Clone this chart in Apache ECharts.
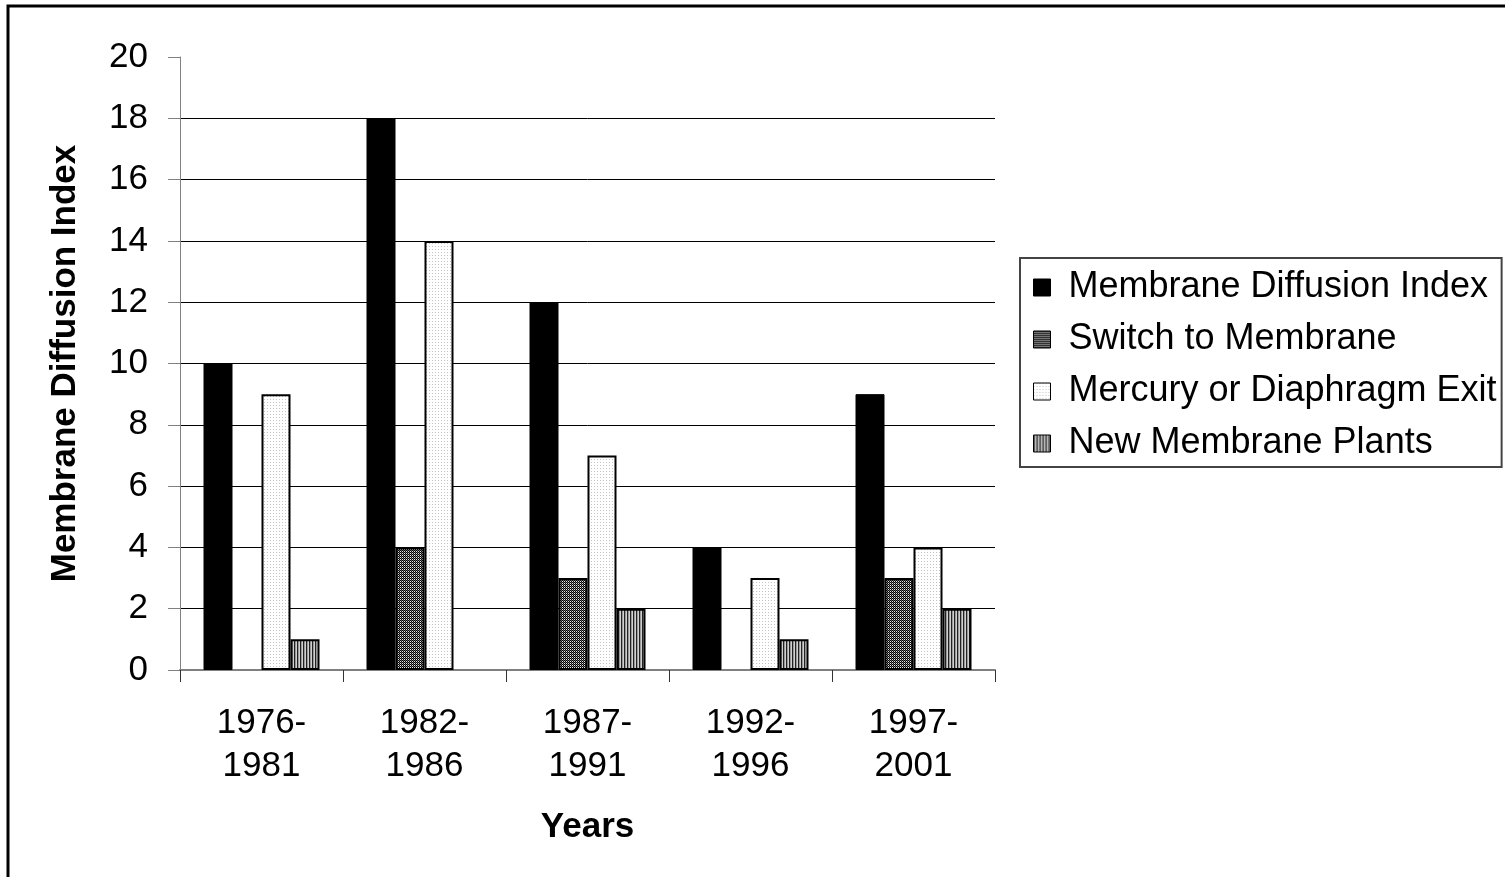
<!DOCTYPE html>
<html>
<head>
<meta charset="utf-8">
<script src="https://cdn.jsdelivr.net/npm/echarts@6/dist/echarts.min.js"></script>
<style>
  html, body { margin: 0; padding: 0; background: #fff; }
  #chart { width: 1505px; height: 877px; }
</style>
</head>
<body>
<div id="chart"></div>
<script>
const years = ['1976-\n1981', '1982-\n1986', '1987-\n1991', '1992-\n1996', '1997-\n2001'];
const diffusionIndex = [10, 18, 12, 4, 9];
const switchToMembrane = [null, 4, 3, null, 3];
const mercuryExit = [9, 14, 7, 3, 4];
const newPlants = [1, null, 2, 1, 2];

const FONT = '"Liberation Sans", Arial, sans-serif';

// small tiles used as fill patterns, like the old Excel hatch fills
function makeTile(w, h, draw) {
  const c = document.createElement('canvas');
  c.width = w;
  c.height = h;
  const ctx = c.getContext('2d');
  ctx.fillStyle = '#fff';
  ctx.fillRect(0, 0, w, h);
  draw(ctx);
  return c;
}

const checkerTile = makeTile(2, 2, ctx => {
  ctx.fillStyle = '#000';
  ctx.fillRect(0, 0, 1, 1);
  ctx.fillRect(1, 1, 1, 1);
  ctx.fillStyle = '#666';
  ctx.fillRect(1, 0, 1, 1);
  ctx.fillStyle = '#e8e8e8';
  ctx.fillRect(0, 1, 1, 1);
});

const dotTile = makeTile(3, 3, ctx => {
  ctx.fillStyle = '#c4c4c4';
  ctx.fillRect(0, 0, 1, 1);
});

const stripeTile = makeTile(3, 1, ctx => {
  ctx.fillStyle = '#222';
  ctx.fillRect(0, 0, 1, 1);
  ctx.fillStyle = '#999';
  ctx.fillRect(1, 0, 1, 1);
  ctx.fillStyle = '#d0d0d0';
  ctx.fillRect(2, 0, 1, 1);
});

const chart = echarts.init(document.getElementById('chart'));

const barBase = {
  type: 'bar',
  barWidth: 29,
  barGap: '0%',
  animation: false
};

chart.setOption({
  animation: false,
  textStyle: { fontFamily: FONT, color: '#000' },
  graphic: [
    {
      type: 'rect',
      shape: { x: 8, y: 6, width: 2000, height: 2000 },
      style: { fill: 'none', stroke: '#000', lineWidth: 3 },
      silent: true
    }
  ],
  grid: { left: 180, right: 510, top: 57, bottom: 207 },
  legend: {
    orient: 'vertical',
    left: 1020,
    top: 258,
    padding: [9, 5, 3, 13],
    itemGap: 11,
    itemWidth: 17,
    itemHeight: 17,
    icon: 'rect',
    borderColor: '#444',
    borderWidth: 2,
    itemStyle: { borderColor: '#000', borderWidth: 1 },
    textStyle: { fontSize: 36, lineHeight: 41, fontFamily: FONT, color: '#000', padding: [0, 0, 0, 13] },
    data: ['Membrane Diffusion Index', 'Switch to Membrane', 'Mercury or Diaphragm Exit', 'New Membrane Plants']
  },
  xAxis: {
    type: 'category',
    data: years,
    name: 'Years',
    nameLocation: 'middle',
    nameGap: 140,
    nameTextStyle: { fontSize: 35, fontWeight: 'bold', fontFamily: FONT, color: '#000' },
    axisLine: { lineStyle: { color: '#808080', width: 2 } },
    axisTick: { show: true, length: 12, lineStyle: { color: '#333', width: 1 } },
    axisLabel: { fontSize: 35, lineHeight: 43, margin: 32, color: '#000', fontFamily: FONT }
  },
  yAxis: {
    type: 'value',
    min: 0,
    max: 20,
    interval: 2,
    name: 'Membrane Diffusion Index',
    nameLocation: 'middle',
    nameGap: 97,
    nameTextStyle: { fontSize: 35, fontWeight: 'bold', fontFamily: FONT, color: '#000' },
    axisLine: { show: true, lineStyle: { color: '#808080', width: 1 } },
    axisTick: { show: true, length: 12, lineStyle: { color: '#808080', width: 1 } },
    axisLabel: { fontSize: 35, margin: 32, color: '#000', fontFamily: FONT },
    splitLine: { show: true, showMinLine: false, showMaxLine: false, lineStyle: { color: '#000', width: 1 } }
  },
  series: [
    Object.assign({}, barBase, {
      name: 'Membrane Diffusion Index',
      data: diffusionIndex,
      itemStyle: { color: '#000', borderColor: '#000', borderWidth: 1 }
    }),
    Object.assign({}, barBase, {
      name: 'Switch to Membrane',
      data: switchToMembrane,
      itemStyle: { color: { image: checkerTile, repeat: 'repeat' }, borderColor: '#000', borderWidth: 2 }
    }),
    Object.assign({}, barBase, {
      name: 'Mercury or Diaphragm Exit',
      data: mercuryExit,
      itemStyle: { color: { image: dotTile, repeat: 'repeat' }, borderColor: '#000', borderWidth: 2 }
    }),
    Object.assign({}, barBase, {
      name: 'New Membrane Plants',
      data: newPlants,
      itemStyle: { color: { image: stripeTile, repeat: 'repeat' }, borderColor: '#000', borderWidth: 2 }
    })
  ]
});
</script>
</body>
</html>
